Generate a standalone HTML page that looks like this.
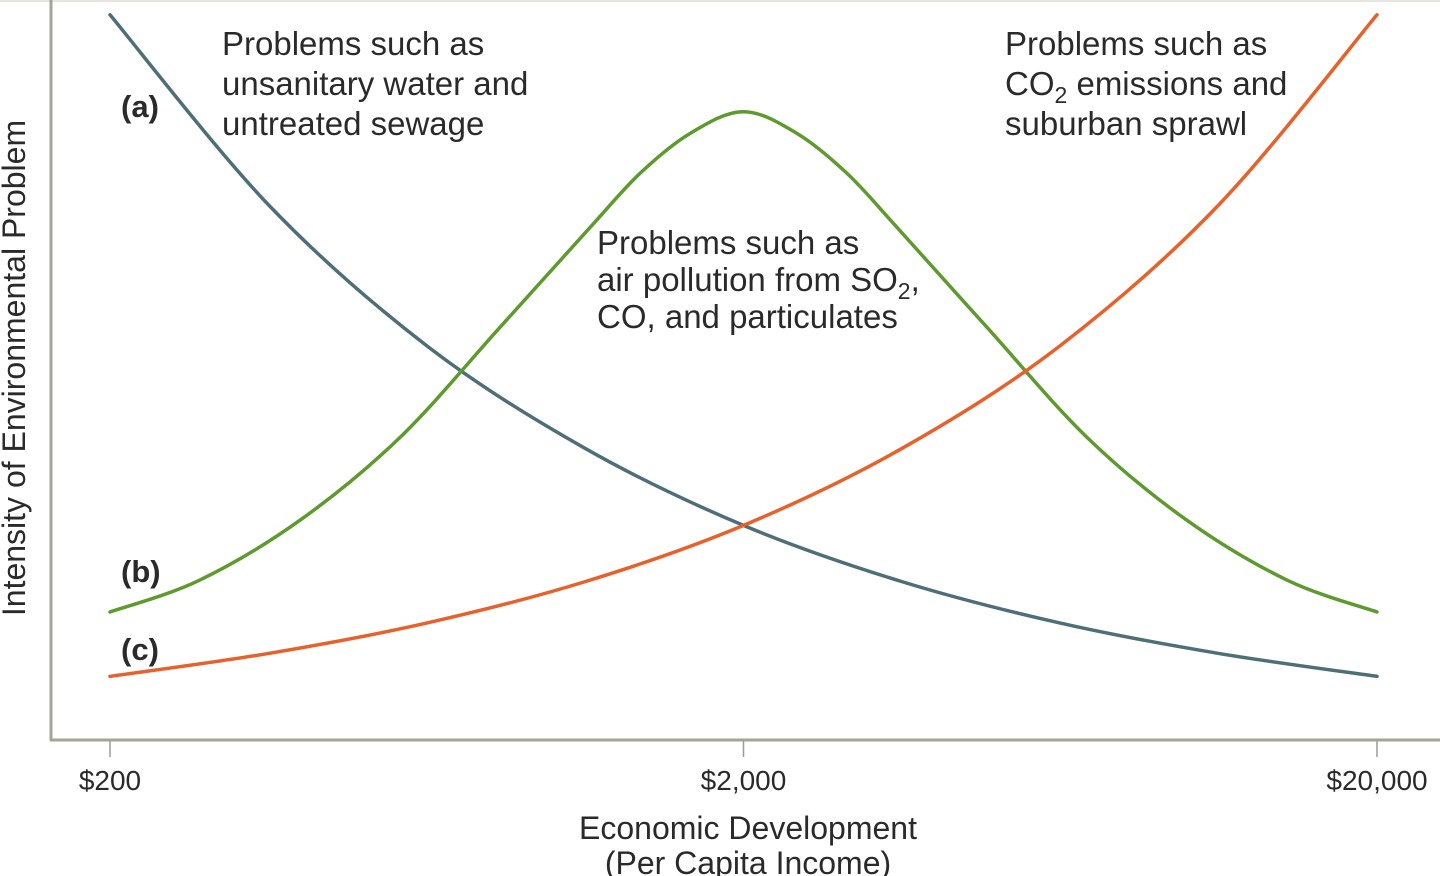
<!DOCTYPE html>
<html><head><meta charset="utf-8">
<style>
body{margin:0;background:#fff;width:1440px;height:876px;overflow:hidden;font-family:"Liberation Sans",Arial,sans-serif;}
svg{display:block}
text{font-family:"Liberation Sans",Arial,sans-serif;fill:#2a2a2a}
</style></head><body>
<svg id="chart" width="1440" height="876" viewBox="0 0 1440 876">
<rect x="0" y="0" width="1440" height="2" fill="#e6e6de"/>
<line x1="51" y1="0" x2="51" y2="741" stroke="#a3a597" stroke-width="3"/>
<line x1="50" y1="740" x2="1440" y2="740" stroke="#a3a597" stroke-width="3"/>
<g id="ticks"></g>
<g id="curves"></g>
<text x="14" y="368" font-size="32" text-anchor="middle" transform="rotate(-90 14 368)" dominant-baseline="central">Intensity of Environmental Problem</text>
<text x="748" y="839" font-size="32" text-anchor="middle">Economic Development</text>
<text x="748" y="874" font-size="32" text-anchor="middle">(Per Capita Income)</text>
<g font-size="33">
<text x="222" y="55">Problems such as</text>
<text x="222" y="95">unsanitary water and</text>
<text x="222" y="135">untreated sewage</text>
</g>
<g font-size="33">
<text x="597" y="254">Problems such as</text>
<text x="597" y="291">air pollution from SO<tspan font-size="23" dy="8">2</tspan><tspan dy="-8">,</tspan></text>
<text x="597" y="328">CO, and particulates</text>
</g>
<g font-size="33">
<text x="1005" y="55">Problems such as</text>
<text x="1005" y="95">CO<tspan font-size="23" dy="8">2</tspan><tspan dy="-8"> emissions and</tspan></text>
<text x="1005" y="135">suburban sprawl</text>
</g>
<text x="121" y="117" font-size="31" font-weight="bold">(a)</text>
<text x="121" y="582" font-size="31" font-weight="bold">(b)</text>
<text x="121" y="660" font-size="31" font-weight="bold">(c)</text>
</svg>
<script>
const incomes = [200, 356, 632, 1125, 2000, 3557, 6325, 11247, 20000];
const seriesA = [98, 72.3, 53.3, 39.4, 29, 21.4, 15.8, 11.7, 8.6];
const seriesC = [8.6, 11.7, 15.8, 21.4, 29, 39.4, 53.3, 72.3, 98];
const incomesB = [200, 277, 399, 574, 826, 1146, 1374, 1649, 2000, 2426, 2911, 3492, 4842, 6970, 10020, 14430, 20000];
const seriesB = [17.3, 21.6, 29.7, 40.9, 55.8, 69.3, 76.6, 82, 84.9, 82, 76.6, 69.3, 55.8, 40.9, 29.7, 21.6, 17.3];
const tickValues = [200, 2000, 20000];
const tickLabels = ["$200", "$2,000", "$20,000"];

const NS = "http://www.w3.org/2000/svg";
function xScale(v){ return 110 + (Math.log10(v) - Math.log10(200)) / 2 * 1267; }
function yScale(v){ return 740 - v * 7.4; }

const ticks = document.getElementById('ticks');
tickValues.forEach((t, i) => {
  const x = xScale(t);
  const l = document.createElementNS(NS, 'line');
  l.setAttribute('x1', x); l.setAttribute('x2', x);
  l.setAttribute('y1', 741); l.setAttribute('y2', 757);
  l.setAttribute('stroke', '#9a9c90'); l.setAttribute('stroke-width', 1.5);
  
  
  ticks.appendChild(l);
  const tx = document.createElementNS(NS, 'text');
  tx.setAttribute('x', x); tx.setAttribute('y', 790);
  tx.setAttribute('font-size', '28'); tx.setAttribute('text-anchor', 'middle');
  tx.textContent = tickLabels[i];
  
  
  ticks.appendChild(tx);
});

function pathFor(xs, vals){
  const p = vals.map((v, i) => [xScale(xs[i]), yScale(v)]);
  let d = `M${p[0][0]},${p[0][1]}`;
  for (let i = 0; i < p.length - 1; i++) {
    const p0 = p[i-1] || p[i], p1 = p[i], p2 = p[i+1], p3 = p[i+2] || p[i+1];
    const c1 = [p1[0] + (p2[0]-p0[0])/6, p1[1] + (p2[1]-p0[1])/6];
    const c2 = [p2[0] - (p3[0]-p1[0])/6, p2[1] - (p3[1]-p1[1])/6];
    d += ` C${c1[0]},${c1[1]} ${c2[0]},${c2[1]} ${p2[0]},${p2[1]}`;
  }
  return d;
}
const curves = document.getElementById('curves');
[[incomes, seriesA, '#4e6e78', 'curve-a'], [incomesB, seriesB, '#5e9a2e', 'curve-b'], [incomes, seriesC, '#e8612a', 'curve-c']].forEach(([xs, vals, col, name]) => {
  const path = document.createElementNS(NS, 'path');
  path.setAttribute('d', pathFor(xs, vals));
  path.setAttribute('fill', 'none');
  path.setAttribute('stroke', col);
  path.setAttribute('stroke-width', 3.5);
  path.setAttribute('stroke-linecap', 'round');
  
  
  curves.appendChild(path);
});
</script>
</body></html>
